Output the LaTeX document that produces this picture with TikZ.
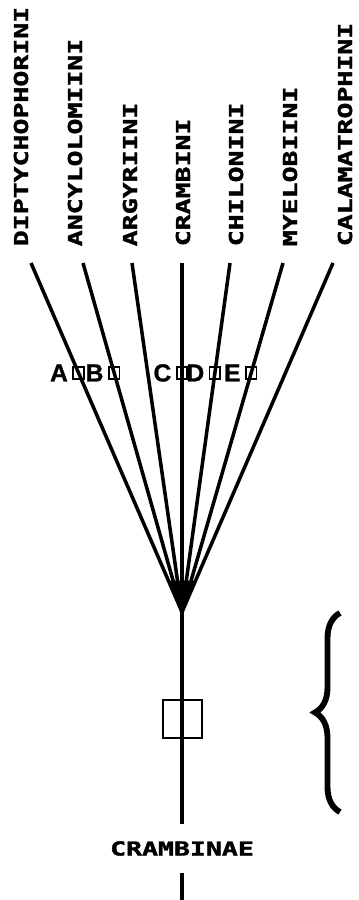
\documentclass[tikz,border=0pt]{standalone}
\usepackage{graphicx}
\usepackage{fontspec}
\newfontfamily\plotter[BoldFeatures={FakeBold=1.5}]{DejaVu Sans Mono}
\newfontfamily\tagfont[BoldFeatures={FakeBold=1}]{Liberation Sans}
\usetikzlibrary{calc, decorations.pathreplacing, positioning}
\newcommand{\tribetext}[1]{\scalebox{1.38}[1]{#1}}

\begin{document}
\begin{tikzpicture}[x=0.03cm, y=-0.03cm, line width=3pt,
    tribe/.style={rotate=90, anchor=base west, inner sep=0pt, font=\plotter\bfseries\fontsize{16.4}{16.4}\selectfont},
    tagbox/.style={draw, line width=1.6pt, minimum width=0.32cm, minimum height=0.38cm, inner sep=0pt},
    tagletter/.style={inner sep=0pt, font=\tagfont\bfseries\fontsize{21}{21}\selectfont}]
    \useasboundingbox (0,0) rectangle (358,900);
    \coordinate (root) at (182,612);
    % Tribes
    \foreach \name/\txt/\x/\tx in {dipt/DIPTYCHOPHORINI/28/31, ancy/ANCYLOLOMIINI/82/83,
        argy/ARGYRIINI/137/132, cram/CRAMBINI/190/182, chil/CHILONINI/243/230,
        myel/MYELOBIINI/297/283, cala/CALAMATROPHINI/352/333} {
        \node[tribe] (\name) at (\x,248) {\tribetext{\txt}};
        \coordinate (\name-top) at (\tx,263);
        \draw (\name-top) -- (root);
    }
    \fill ($(root)!0.09!(dipt-top)$) -- ($(root)!0.09!(cala-top)$) -- (root) -- cycle;
    % Characters A--E
    \foreach \name/\tag in {dipt/A, ancy/B, cram/C, chil/D, myel/E} {
        \path (\name-top) -- (root) node[tagbox, pos=0.315] (box\tag) {};
        \node[tagletter, left=0.08cm of box\tag] (tag\tag) {\tag};
    }
    % Subfamily stem
    \node[draw, line width=2pt, minimum width=1.17cm, minimum height=1.14cm] (stembox) at (182.5,719) {};
    \node[inner xsep=0pt, inner ysep=0.45cm, font=\plotter\bfseries\fontsize{16.4}{16.4}\selectfont] (crambinae) at (182,848.5) {\tribetext{CRAMBINAE}};
    \coordinate (base) at (182,900);
    \draw (root) -- (crambinae.north);
    \draw (crambinae.south) -- (base);
    \draw[decorate, decoration={brace, amplitude=0.75cm}, line width=5pt] (340,812) -- (340,613);
\end{tikzpicture}
\end{document}
